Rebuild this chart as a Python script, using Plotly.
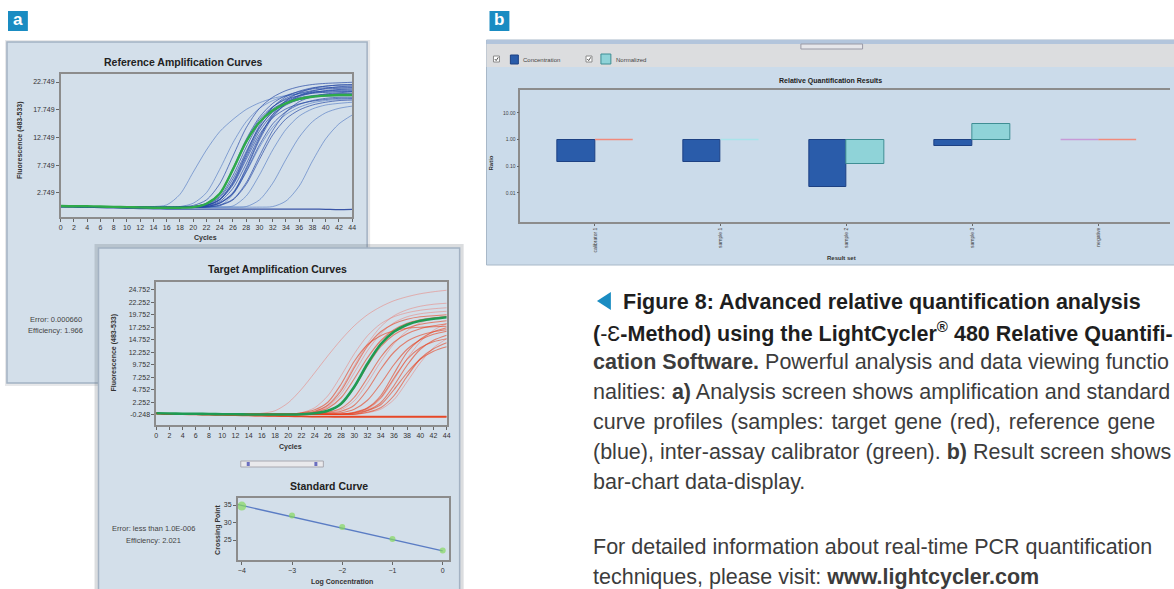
import plotly.graph_objects as go

W, H = 1174, 589
FONT = "Liberation Sans, Arial, sans-serif"
CAP_FONT = "Liberation Sans, Arial, sans-serif"


def px(x):
    return x / W


def py(y):
    return 1 - y / H


# ---------------- data: amplification curves (cycle grid) ----------------
cycles = [0, 2, 4, 6, 8, 10, 12, 14, 16, 18, 20, 22, 24, 26, 28, 30, 32, 34, 36, 38, 40, 42, 44]

ref_lead = [0.3, 0.3, 0.25, 0.25, 0.2, 0.2, 0.2, 0.15, 0.15, 0.15]
ref_band = [
    [0.3, 0.3, 0.25, 0.25, 0.2, 0.2, 0.2, 0.15, 0.2, 0.3, 0.5, 1.5, 4.4, 9.4, 14.5, 18.0, 20.0, 21.2, 21.9, 22.3, 22.5, 22.6, 22.7],
    ref_lead + [0.3, 0.9, 2.7, 7.2, 12.4, 16.4, 18.9, 20.3, 21.0, 21.5, 21.7, 21.8, 21.8],
    ref_lead + [0.2, 0.5, 1.6, 4.6, 9.6, 14.4, 17.5, 19.3, 20.3, 20.9, 21.1, 21.3, 21.3],
    ref_lead + [0.3, 0.8, 2.6, 7.0, 12.1, 16.0, 18.3, 19.6, 20.3, 20.7, 20.9, 21.0, 21.0],
    ref_lead + [0.2, 0.5, 1.5, 4.4, 9.2, 13.9, 16.9, 18.6, 19.6, 20.2, 20.4, 20.6, 20.6],
    ref_lead + [0.2, 0.3, 0.9, 2.7, 7.0, 12.3, 16.4, 18.8, 20.1, 20.8, 21.2, 21.4, 21.5],
    ref_lead + [0.2, 0.3, 0.9, 2.6, 6.6, 11.4, 15.2, 17.4, 18.7, 19.4, 19.8, 20.0, 20.0],
    ref_lead + [0.2, 0.5, 1.6, 4.8, 9.9, 14.9, 18.2, 20.1, 21.1, 21.7, 22.0, 22.2, 22.2],
    ref_lead + [0.2, 0.2, 0.5, 1.5, 4.3, 8.8, 13.2, 16.1, 17.7, 18.6, 19.1, 19.4, 19.5],
    ref_lead + [0.3, 0.8, 2.5, 6.8, 11.8, 15.6, 17.9, 19.2, 19.9, 20.3, 20.5, 20.6, 20.6],
    ref_lead + [0.2, 0.3, 1.0, 2.8, 7.3, 12.6, 16.9, 19.4, 20.8, 21.6, 22.0, 22.2, 22.3],
    ref_lead + [0.2, 0.5, 1.5, 4.2, 8.8, 13.3, 16.3, 17.9, 18.8, 19.3, 19.6, 19.8, 19.8],
    ref_lead + [0.3, 0.7, 2.1, 5.9, 11.0, 15.4, 18.2, 19.8, 20.7, 21.2, 21.5, 21.6, 21.7],
    ref_lead + [0.2, 0.2, 0.6, 1.6, 4.6, 9.4, 14.0, 17.3, 19.2, 20.1, 20.6, 20.8, 21.0],
    ref_lead + [0.2, 0.4, 1.2, 3.6, 8.0, 12.9, 16.6, 18.9, 20.3, 21.1, 21.6, 21.9, 22.0],
    ref_lead + [0.2, 0.6, 1.9, 5.3, 10.2, 14.6, 17.3, 18.8, 19.6, 20.0, 20.2, 20.3, 20.3],
]
ref_outliers = [
    [0.3, 0.3, 0.25, 0.25, 0.2, 0.2, 0.2, 0.3, 0.6, 2.5, 6.5, 10.5, 13.8, 16.0, 17.8, 19.0, 19.8, 20.3, 20.6, 20.8, 20.9, 21.0, 21.0],
    [0.3, 0.3, 0.25, 0.25, 0.2, 0.2, 0.2, 0.15, 0.2, 0.3, 0.9, 2.8, 7.0, 11.8, 15.6, 18.0, 19.4, 20.2, 20.7, 21.0, 21.1, 21.2, 21.2],
    ref_lead + [0.2, 0.2, 0.4, 2.5, 6.5, 11.0, 14.6, 16.9, 18.2, 19.0, 19.4, 19.6, 19.7],
    ref_lead + [0.2, 0.2, 0.2, 0.4, 2.2, 6.0, 10.5, 14.2, 16.6, 17.9, 18.6, 18.9, 19.1],
    ref_lead + [0.2, 0.2, 0.2, 0.2, 0.3, 1.5, 4.5, 8.8, 12.8, 15.6, 17.2, 18.0, 18.4],
    ref_lead + [0.2, 0.2, 0.2, 0.2, 0.2, 0.2, 0.3, 1.3, 4.0, 8.5, 12.5, 15.2, 16.8],
]
ref_flat = [0.3, 0.25, 0.2, 0.1, 0.05, 0.0, -0.05, -0.1, -0.15, -0.15, -0.15, -0.15, -0.15, -0.15,
            -0.15, -0.15, -0.15, -0.15, -0.15, -0.15, -0.2, -0.25, -0.2]
ref_calibrator = [0.4, 0.35, 0.35, 0.3, 0.25, 0.2, 0.15, 0.1, 0.1, 0.1, 0.2, 0.8, 2.6, 7.0, 12.0,
                  15.5, 17.6, 18.9, 19.7, 20.1, 20.3, 20.4, 20.4]
ref_ytick_vals = [2.749, 7.749, 12.749, 17.749, 22.749]
ref_ytick_text = ["2.749", "7.749", "12.749", "17.749", "22.749"]

tgt_lead = [0.1, 0.0, 0.0, -0.05, -0.05, -0.1, -0.1, -0.1, -0.1, -0.1, -0.1]
tgt_dense = [
    tgt_lead + [0.1, 0.5, 1.7, 4.6, 9.2, 13.5, 16.4, 18.0, 18.9, 19.4, 19.6, 19.8],
    tgt_lead + [-0.1, 0.1, 0.6, 1.9, 5.2, 9.6, 13.4, 15.8, 17.1, 17.9, 18.3, 18.6],
    tgt_lead + [-0.1, -0.05, 0.3, 1.1, 3.3, 7.2, 11.3, 14.3, 16.0, 17.0, 17.6, 18.0],
    tgt_lead + [0.2, 0.8, 2.3, 5.9, 10.5, 13.8, 15.6, 16.6, 17.1, 17.3, 17.4, 17.5],
    tgt_lead + [-0.1, -0.1, 0.1, 0.5, 1.7, 4.8, 8.9, 12.3, 14.5, 15.7, 16.4, 16.8],
    tgt_lead + [-0.1, -0.1, -0.1, -0.05, 0.3, 1.2, 3.6, 8.0, 12.3, 14.9, 16.4, 17.2],
    tgt_lead + [-0.1, -0.1, -0.1, -0.1, 0.1, 0.7, 2.2, 5.6, 9.7, 12.9, 14.7, 15.7],
    tgt_lead + [-0.1, -0.1, -0.1, -0.1, 0.2, 1.1, 3.2, 7.1, 10.9, 13.2, 14.4, 15.0],
    tgt_lead + [-0.1, -0.1, -0.1, -0.1, -0.1, 0.3, 1.2, 3.6, 7.5, 11.0, 13.0, 14.2],
    tgt_lead + [-0.1, -0.1, -0.1, -0.1, -0.1, 0.6, 1.8, 4.8, 8.2, 10.9, 12.5, 13.4],
    tgt_lead + [-0.1, 0.3, 1.1, 3.2, 7.0, 11.2, 14.6, 16.8, 18.1, 18.8, 19.2, 19.4],
    tgt_lead + [-0.1, -0.1, -0.05, 0.2, 0.9, 2.7, 6.0, 9.8, 12.9, 14.8, 15.9, 16.5],
]
tgt_faint = [
    [0.1, 0.0, 0.0, -0.05, -0.05, -0.1, -0.1, -0.1, 0.1, 0.6, 2.2, 4.9, 8.2, 11.6, 14.8, 17.6, 19.8, 21.4, 22.6, 23.4, 24.0, 24.4, 24.7],
    tgt_lead + [0.2, 1.2, 3.6, 7.6, 12.0, 15.6, 18.0, 19.4, 20.2, 20.7, 21.0, 21.2],
    tgt_lead + [-0.1, 0.3, 1.4, 4.0, 8.2, 12.6, 16.0, 18.2, 19.4, 20.0, 20.3, 20.5],
    tgt_lead + [-0.1, -0.1, 0.2, 0.8, 2.6, 6.2, 10.4, 14.0, 16.6, 18.2, 19.0, 19.5],
    tgt_lead + [-0.1, -0.1, -0.1, -0.1, 0.2, 0.9, 3.0, 6.8, 11.0, 14.4, 16.7, 18.0],
    tgt_lead + [-0.1, -0.1, -0.1, -0.1, -0.1, 0.2, 0.9, 2.8, 6.4, 10.2, 13.2, 15.0],
    tgt_lead + [-0.1, 0.4, 1.8, 5.0, 9.6, 14.0, 17.4, 19.6, 20.8, 21.5, 21.9, 22.1],
]
tgt_flat = [
    [0.0, -0.05, -0.1, -0.15, -0.2, -0.25, -0.3, -0.35, -0.4, -0.45, -0.5, -0.55, -0.55, -0.55,
     -0.55, -0.55, -0.55, -0.55, -0.55, -0.55, -0.55, -0.55, -0.55],
    [0.0, 0.0, -0.05, -0.1, -0.15, -0.2, -0.25, -0.3, -0.35, -0.4, -0.45, -0.5, -0.6, -0.6,
     -0.65, -0.65, -0.65, -0.65, -0.65, -0.65, -0.65, -0.65, -0.65],
]
tgt_calibrator = [0.1, 0.05, 0.0, 0.0, -0.05, -0.1, -0.1, -0.15, -0.15, -0.15, -0.15, -0.1, 0.1,
                  0.6, 2.0, 5.4, 10.0, 13.9, 16.4, 17.8, 18.6, 19.0, 19.3]
tgt_ytick_vals = [-0.248, 2.252, 4.752, 7.252, 9.752, 12.252, 14.752, 17.252, 19.752, 22.252, 24.752]
tgt_ytick_text = ["-0.248", "2.252", "4.752", "7.252", "9.752", "12.252", "14.752", "17.252",
                  "19.752", "22.252", "24.752"]

# ---------------- data: standard curve ----------------
log_conc = [-4, -3, -2, -1, 0]
crossing_point = [34.7, 32.0, 28.7, 25.3, 22.0]
fit_x = [-4.1, 0.0]
fit_y = [35.2, 21.9]

# ---------------- data: relative quantification bars ----------------
result_sets = ["calibrator 1", "sample 1", "sample 2", "sample 3", "negative"]
ratio_concentration = [0.146, 0.146, 0.0163, 0.56, 1.0]
ratio_normalized = [1.0, 1.0, 0.123, 3.9, 1.0]
conc_unit_line_color = ["#2a5caa", "#2a5caa", "#2a5caa", "#2a5caa", "#c79ad8"]
norm_unit_line_color = ["#f28a7c", "#a9e3ea", "#8fd3d8", "#8fd3d8", "#f28a7c"]

fig = go.Figure()


def lines(xv, yv, color, width, xa, ya):
    fig.add_trace(go.Scatter(x=xv, y=yv, mode="lines", xaxis=xa, yaxis=ya,
                             line=dict(color=color, width=width, shape="spline", smoothing=0.8),
                             showlegend=False, hoverinfo="skip"))


# reference plot
for c in ref_outliers:
    lines(cycles, c, "rgba(96,132,200,0.7)", 1, "x", "y")
lines(cycles, ref_flat, "rgba(40,70,160,0.9)", 1.3, "x", "y")
for c in ref_band:
    lines(cycles, c, "rgba(40,74,165,0.7)", 1, "x", "y")
lines(cycles, ref_calibrator, "#2eaa4a", 2.4, "x", "y")

# target plot
for c in tgt_faint:
    lines(cycles, c, "rgba(240,110,100,0.45)", 1, "x2", "y2")
for c in tgt_flat:
    lines(cycles, c, "rgba(232,64,28,0.85)", 1.6, "x2", "y2")
for c in tgt_dense:
    lines(cycles, c, "rgba(232,64,28,0.6)", 1.1, "x2", "y2")
lines(cycles, tgt_calibrator, "#1f9a52", 2.6, "x2", "y2")

# standard curve
fig.add_trace(go.Scatter(x=fit_x, y=fit_y, mode="lines", xaxis="x3", yaxis="y3",
                         line=dict(color="#5a7cc4", width=1.4), showlegend=False, hoverinfo="skip"))
fig.add_trace(go.Scatter(x=log_conc, y=crossing_point, mode="markers", xaxis="x3", yaxis="y3",
                         marker=dict(color="#86d860", size=[9, 6, 6, 6, 6], line=dict(width=0)),
                         showlegend=False, hoverinfo="skip"))

# bars (base at ratio 1 on log axis)
pos = [i + 1 for i in range(len(result_sets))]
BW = 0.3
conc_size = [None if v == 1.0 else v - 1.0 for v in ratio_concentration]
norm_size = [None if v == 1.0 else v - 1.0 for v in ratio_normalized]
fig.add_trace(go.Bar(x=pos, y=conc_size, base=1.0, width=BW, offset=-BW, xaxis="x4", yaxis="y4",
                     marker=dict(color="#2a5caa", line=dict(color="#1d4183", width=1)),
                     showlegend=False, hoverinfo="skip"))
fig.add_trace(go.Bar(x=pos, y=norm_size, base=1.0, width=BW, offset=0, xaxis="x4", yaxis="y4",
                     marker=dict(color="#8fd3d8", line=dict(color="#3f8e94", width=1)),
                     showlegend=False, hoverinfo="skip"))
for p, v, col in zip(pos, ratio_concentration, conc_unit_line_color):
    if v == 1.0:
        fig.add_trace(go.Scatter(x=[p - BW, p], y=[v, v], mode="lines", xaxis="x4", yaxis="y4",
                                 line=dict(color=col, width=1.5), showlegend=False, hoverinfo="skip"))
for p, v, col in zip(pos, ratio_normalized, norm_unit_line_color):
    if v == 1.0:
        fig.add_trace(go.Scatter(x=[p, p + BW], y=[v, v], mode="lines", xaxis="x4", yaxis="y4",
                                 line=dict(color=col, width=1.5), showlegend=False, hoverinfo="skip"))

ax = dict(showline=True, linecolor="#8c8c8c", linewidth=1.5, showgrid=False, zeroline=False,
          ticks="outside", ticklen=3, tickwidth=1, tickcolor="#666",
          tickfont=dict(size=7, color="#333", family=FONT))

fig.update_layout(
    width=W, height=H, margin=dict(l=0, r=0, t=0, b=0),
    paper_bgcolor="white", plot_bgcolor="white", showlegend=False,
    font=dict(family=FONT, color="#222"),
    xaxis=dict(domain=[px(59), px(352)], range=[0, 44], tickvals=cycles, anchor="y", mirror=True, **ax),
    yaxis=dict(domain=[py(217), py(74)], range=[-1.58, 24.19], tickvals=ref_ytick_vals,
               ticktext=ref_ytick_text, anchor="x", mirror=True, **ax),
    xaxis2=dict(domain=[px(155), px(447)], range=[0, 44], tickvals=cycles, anchor="y2", mirror=True, **ax),
    yaxis2=dict(domain=[py(425), py(282)], range=[-2.25, 26.35], tickvals=tgt_ytick_vals,
                ticktext=tgt_ytick_text, anchor="x2", mirror=True, **ax),
    xaxis3=dict(domain=[px(237), px(449)], range=[-4.08, 0.12], tickvals=log_conc, anchor="y3",
                mirror=True, **ax),
    yaxis3=dict(domain=[py(560), py(498)], range=[19.3, 37.0], tickvals=[25, 30, 35], anchor="x3",
                mirror=True, **ax),
    xaxis4=dict(domain=[px(521), 1.0], range=[0.407, 5.569], tickvals=pos, ticktext=result_sets,
                tickangle=-90, anchor="y4", mirror=True,
                **{**ax, "tickfont": dict(size=5, color="#444", family=FONT), "ticklen": 2}),
    yaxis4=dict(domain=[py(222), py(90)], type="log", range=[-3.09, 1.86], tickvals=[10, 1, 0.1, 0.01],
                ticktext=["10.00", "1.00", "0.10", "0.01"], anchor="x4",
                **{**ax, "tickfont": dict(size=5, color="#444", family=FONT), "ticklen": 2}),
    bargap=0,
)

PANEL = "#d3dfea"
PANEL_LINE = "#a3b2c3"
shapes = []


def rect(x0, y0, x1, y1, fill, line=None, lw=1, layer="below"):
    shapes.append(dict(type="rect", xref="paper", yref="paper", x0=px(x0), x1=px(x1), y0=py(y1),
                       y1=py(y0), fillcolor=fill, layer=layer,
                       line=dict(color=line or fill, width=lw if line else 0)))


def checkbox(x0, y0):
    rect(x0, y0, x0 + 6, y0 + 6, "white", "#8a8a8a", 1, "above")
    shapes.append(dict(type="path", xref="paper", yref="paper",
                       path=f"M {px(x0 + 1.3)} {py(y0 + 3)} L {px(x0 + 2.7)} {py(y0 + 4.6)} "
                            f"L {px(x0 + 4.8)} {py(y0 + 1.3)}",
                       line=dict(color="#555", width=1)))


# panel a windows
rect(3, 40, 370, 386, "rgba(120,130,140,0.18)")
rect(5, 42, 367, 383, PANEL, PANEL_LINE, 1.5)
rect(93, 244, 464, 600, "rgba(90,100,110,0.22)")
rect(97, 248, 460, 600, PANEL, PANEL_LINE, 1.5)
# slider widget in target window
rect(240, 461, 323, 467, "#e9e9ec", "#a8a8b0", 1, "above")
rect(246, 462, 249, 466, "#6a6fc0", None, 0, "above")
rect(314, 462, 317, 466, "#6a6fc0", None, 0, "above")
# panel b window
rect(487, 40, 1180, 265, "#cbdbea", "#a8b8c8", 1)
rect(487, 40, 1180, 44, "#b3c5dc")
rect(487, 44, 1180, 67, "#dcdddf")
rect(803, 44, 865, 49, "#e6e6ea", "#9a9aa6", 1, "above")
# legend swatches and check boxes
checkbox(494, 56)
rect(511, 55, 519, 64, "#2a5caa", "#1d4183", 1, "above")
checkbox(587, 56)
rect(602, 54, 612, 64, "#8fd3d8", "#3f8e94", 1, "above")
# label squares
rect(6, 11, 26, 31, "#1a8cc2")
rect(490, 11, 510, 31, "#1a8cc2")
# caption triangle
shapes.append(dict(type="path", xref="paper", yref="paper",
                   path=f"M {px(612)} {py(292)} L {px(598)} {py(301)} L {px(612)} {py(310)} Z",
                   fillcolor="#1a8cc2", line=dict(width=0)))

ann = []


def text(x, y, s, size, bold=False, color="#222", xanchor="center", angle=0, family=FONT):
    ann.append(dict(x=px(x), y=py(y), xref="paper", yref="paper", text=f"<b>{s}</b>" if bold else s,
                    showarrow=False, xanchor=xanchor, yanchor="middle", textangle=angle,
                    font=dict(size=size, color=color, family=family)))


text(16, 20, "a", 17, True, "white")
text(500, 20, "b", 17, True, "white")

text(182, 62, "Reference Amplification Curves", 10.5, True, "#222")
text(205, 238, "Cycles", 7, True, "#333")
text(18, 140, "Fluorescence (483-533)", 7, True, "#333", angle=-90)
text(54, 319, "Error: 0.000660", 7.5, False, "#444")
text(54, 330, "Efficiency: 1.966", 7.5, False, "#444")

text(277, 269, "Target Amplification Curves", 10.5, True, "#222")
text(290, 447, "Cycles", 7, True, "#333")
text(113, 353, "Fluorescence (483-533)", 7, True, "#333", angle=-90)

text(329, 486, "Standard Curve", 10.5, True, "#222")
text(342, 582, "Log Concentration", 7, True, "#333")
text(217, 530, "Crossing Point", 7, True, "#333", angle=-90)
text(152, 528, "Error: less than 1.0E-006", 7.5, False, "#444")
text(152, 540, "Efficiency: 2.021", 7.5, False, "#444")

text(833, 81, "Relative Quantification Results", 7, True, "#222")
text(844, 258, "Result set", 6, True, "#333")
text(492, 163, "Ratio", 6, True, "#333", angle=-90)
text(522, 59.5, "Concentration", 6, False, "#444", xanchor="left")
text(615, 59.5, "Normalized", 6, False, "#444", xanchor="left")

# caption
CX = 592
CS = 21.5
RC = "#3c3c3c"
HS = "\u200a"
text(622, 302, "Figure 8: Advanced relative quantification analysis", CS, True, "#1e1e1e", "left", family=CAP_FONT)
text(CX, 332, "<b>(</b>-Ɛ<b>-Method) using the LightCycler<sup>®</sup> 480 Relative Quantifi-</b>", CS, False, "#1e1e1e", "left", family=CAP_FONT)
text(CX, 362, "<b>cation Software.</b> Powerful analysis and data viewing functio", CS, False, RC, "left", family=CAP_FONT)
text(CX, 392, "nalities: <b>a)</b> Analysis screen shows amplification and standard", CS, False, RC, "left", family=CAP_FONT)
text(CX, 422, "curve profiles (samples: target gene (red), reference gene".replace(" ", " " + HS), CS, False, RC, "left", family=CAP_FONT)
text(CX, 452, "(blue), inter-assay calibrator (green). <b>b)</b> Result screen shows", CS, False, RC, "left", family=CAP_FONT)
text(CX, 482, "bar-chart data-display.", CS, False, RC, "left", family=CAP_FONT)
text(CX, 547, "For detailed information about real-time PCR quantification", CS, False, RC, "left", family=CAP_FONT)
text(CX, 577, "techniques, please visit: <b>www.lightcycler.com</b>", CS, False, RC, "left", family=CAP_FONT)

fig.update_layout(shapes=shapes, annotations=ann)
fig.write_html("out.html")
